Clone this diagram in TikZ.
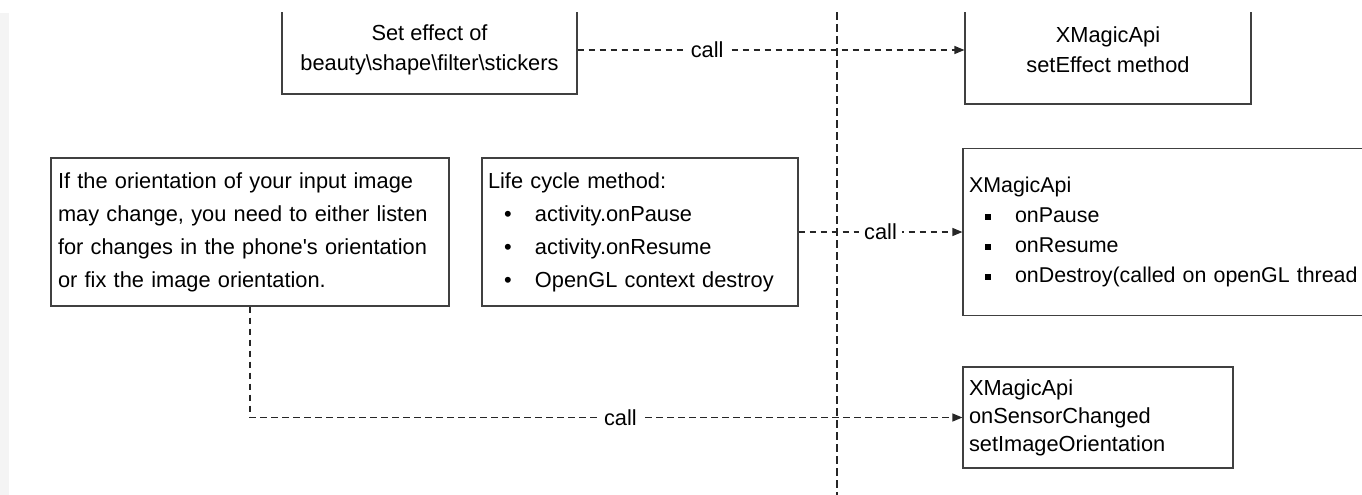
\documentclass[tikz,border=0pt]{standalone}
\usepackage{fontspec}
\setmainfont{Liberation Sans}
\usepackage{tikz}
\usetikzlibrary{arrows.meta, positioning}

\newcommand{\dotitem}{\hspace*{16pt}\makebox[31pt][l]{\textbullet}}
\newcommand{\sqitem}{\hspace*{16pt}\makebox[30pt][l]{\rule[3pt]{5.5pt}{5.5pt}}}

\begin{document}
\begin{tikzpicture}[
    x=1pt, y=-1pt,
    box/.style={draw=black!75, line width=1.2pt, inner sep=6pt,
                font=\fontsize{21.8}{33}\selectfont},
    lbox/.style={box, align=left},
    cbox/.style={box, align=center},
    link/.style={-{Triangle[length=10pt,width=8pt]}, line width=1.2pt,
                 black!85, dash pattern=on 6.5pt off 4.5pt},
    lbl/.style={fill=white, inner sep=5pt, text=black,
                font=\fontsize{21.8}{26}\selectfont},
  ]
  \useasboundingbox (0,0) rectangle (1362,495);
  \begin{scope}
    \clip (0,13) rectangle (1362,495);
    \fill[gray!9] (0,13) rectangle (9,495);

    % divider
    \coordinate (divtop) at (837,0);
    \coordinate (divbot) at (837,495);
    \draw[line width=1.2pt, black!85, dash pattern=on 8pt off 4pt] (divtop) -- (divbot);

    % left side
    \node[cbox, minimum width=295pt, minimum height=88pt,
          font=\fontsize{21.8}{30}\selectfont] (seteff) at (429.5,50)
      {Set effect of\\beauty\textbackslash shape\textbackslash filter\textbackslash stickers};
    \node[lbox, text width=384pt, inner xsep=7pt, minimum height=148pt] (orient) at (250,232)
      {If the orientation of your input image\\
       may change, you need to either listen\\
       for changes in the phone\textquotesingle s orientation\\
       or fix the image orientation.};
    \node[lbox, text width=304pt, minimum height=148pt] (life) at (640,232)
      {Life cycle method:\\
       \dotitem activity.onPause\\
       \dotitem activity.onResume\\
       \dotitem OpenGL context destroy};

    % right side
    \node[cbox, minimum width=286pt, minimum height=108pt,
          font=\fontsize{21.8}{30}\selectfont] (xmset) at (1108,50)
      {XMagicApi\\setEffect method};
    \node[lbox, text width=508pt, minimum height=167pt,
          font=\fontsize{21.4}{30}\selectfont] (xmpause) at (1223,232)
      {XMagicApi\\
       \sqitem onPause\\
       \sqitem onResume\\
       \sqitem onDestroy(called on openGL thread};
    \node[lbox, text width=258pt, minimum height=101pt,
          font=\fontsize{21.8}{28}\selectfont] (xmsensor) at (1098,417.5)
      {XMagicApi\\onSensorChanged\\setImageOrientation};

    \draw[link] (seteff) -- (xmset) node[lbl, pos=0.335] {call};
    \draw[link] (life) -- (xmpause) node[lbl, midway] {call};
    \draw[link] (orient.south) |- (xmsensor.west) node[lbl, pos=0.76] {call};
  \end{scope}
\end{tikzpicture}
\end{document}
